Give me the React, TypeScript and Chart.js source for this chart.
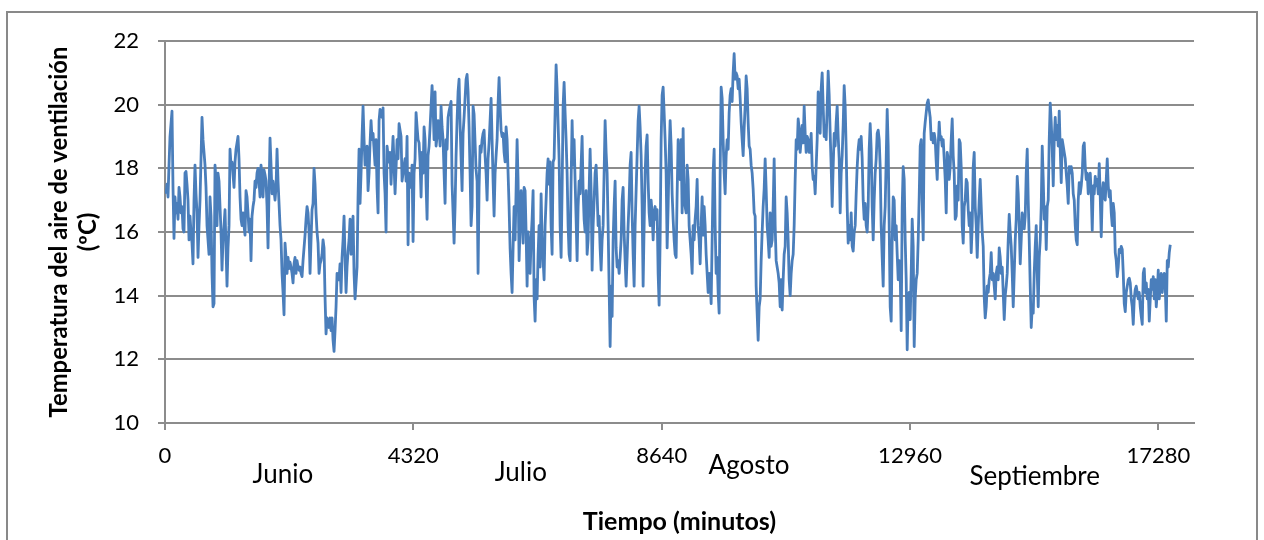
import React, { useEffect, useRef } from 'react';
import { Chart, registerables } from 'chart.js';

Chart.register(...registerables);

// Ventilation air temperature, one value every 17.4 minutes
const SAMPLE_START_MIN = 17.4;
const SAMPLE_STEP_MIN = 17.4;

const TEMPS_JUNIO_A = [
  17.2, 17.5, 17.1, 18.1, 19.0, 19.4, 19.8, 17.4, 15.8, 17.1,
  16.6, 16.9, 16.4, 17.4, 17.1, 16.6, 16.8, 16.1, 16.0, 17.85,
  17.9, 17.5, 17.0, 15.75, 16.5, 16.0, 15.65, 15.0, 17.0, 18.1,
  17.2, 16.6, 15.2, 16.2, 17.0, 18.3, 19.6, 18.9, 18.5, 18.1,
  17.4, 16.2, 15.75, 15.3, 17.1, 16.5, 14.7, 13.65, 13.75, 18.1,
  17.6, 16.2, 17.85, 17.6, 16.8, 16.0, 14.8, 15.75, 16.2, 16.7,
  15.5, 14.3, 15.5, 16.2, 18.6, 18.1, 18.2, 17.8, 17.4, 18.2,
  18.6, 18.8, 19.0, 18.3, 17.1, 16.4, 16.2, 16.6, 16.2, 15.9,
  17.3, 17.1, 16.6, 16.0, 16.4, 15.1, 16.5, 16.8, 17.0, 17.6,
  17.4, 17.85, 18.0, 17.6, 17.1, 18.1, 17.75, 17.1, 17.95, 17.8,
  17.6, 16.8, 15.5, 17.3, 18.95, 18.1, 17.2, 17.6, 17.3, 17.0,
  17.4, 18.6, 17.6, 16.9, 16.2, 15.75, 14.7, 14.1, 13.4, 15.65,
  15.2, 14.7, 15.2, 14.85,
];

const TEMPS_JUNIO_B = [
  15.05, 14.9, 14.7, 14.4, 15.0, 15.2, 14.7, 15.1, 14.9, 14.8,
  14.9, 14.7, 14.6, 15.1, 15.5, 15.9, 16.4, 16.8, 16.6, 16.0,
  14.7, 15.75, 16.7, 16.9, 18.0, 17.5, 16.6, 16.0, 15.65, 14.7,
  15.0, 15.1, 15.3, 15.75, 15.5, 13.95, 12.8, 13.3, 13.1, 13.0,
  13.3, 12.9, 13.3, 12.6, 12.25, 12.9, 13.65, 14.7, 14.6, 14.5,
  15.0, 14.1, 15.2, 15.75, 16.5, 15.2, 14.1, 14.9, 15.4, 15.75,
  16.4, 15.3, 16.0, 16.5, 14.7, 13.9, 14.4, 14.9, 17.1, 18.6,
  16.9, 17.85, 19.0, 19.95, 18.9, 18.1, 18.4, 18.7, 17.3, 17.85,
  18.8, 19.5, 18.9, 19.1, 18.6, 18.1, 18.9, 17.4, 16.6, 19.5,
  19.85, 19.7, 19.6, 19.9, 17.85, 17.2, 16.0, 18.7, 18.4, 18.2,
  18.5, 17.5, 18.3, 19.0, 18.1, 17.2, 18.0, 18.9, 18.3, 19.4,
  19.2, 19.0, 17.6, 17.85, 18.1, 18.3, 17.6, 19.0, 15.6, 17.85,
  17.6, 17.4, 18.1, 15.7, 17.85, 18.3, 19.75, 19.3, 18.9, 18.8,
];

const TEMPS_JULIO_A = [
  18.2, 17.1, 18.5, 17.85, 19.3, 18.9, 17.5, 16.4, 18.4, 18.7,
  19.3, 19.95, 20.6, 19.95, 18.9, 20.4, 18.7, 19.0, 19.5, 19.3,
  18.7, 19.95, 19.3, 18.9, 17.85, 16.9, 18.9, 18.6, 19.6, 19.8,
  19.95, 20.1, 17.5, 16.6, 15.65, 16.8, 18.4, 19.5, 20.4, 20.8,
  19.4, 18.3, 17.3, 19.1, 19.6, 20.2, 20.8, 20.95, 20.4, 19.3,
  17.85, 16.2, 16.8, 19.95, 19.7, 18.8, 17.95, 17.6, 14.7, 17.4,
  18.7, 18.5, 18.9, 19.1, 19.2, 18.4, 17.85, 17.0, 18.3, 18.8,
  19.5, 20.2, 18.9, 17.6, 16.5, 17.85, 18.4, 18.9, 20.05, 20.85,
  19.95, 19.2, 19.0, 19.1, 18.5, 18.2, 19.3, 18.9, 17.85, 16.8,
  15.5, 14.7, 14.1, 15.5, 16.8, 15.75, 17.3, 18.9, 17.6, 15.1,
  16.2, 17.3, 16.6, 15.65, 17.4, 17.3, 16.0, 14.3, 16.0, 15.5,
  14.7, 15.75, 16.4, 17.3, 13.95, 13.2, 14.5, 13.9, 15.3, 16.2,
  14.9, 17.2, 15.75, 15.1, 14.5, 16.2, 17.0, 17.85, 18.3, 17.5,
  18.2, 16.2, 15.3, 18.2, 18.3, 19.75, 21.25, 20.5, 19.4, 18.3,
];

const TEMPS_JULIO_B = [
  16.2, 15.2, 17.3, 19.95, 20.7, 19.75, 18.9, 17.85, 16.2, 15.3,
  15.1, 17.6, 19.5, 18.1, 18.9, 17.6, 16.4, 15.1, 16.8, 17.6,
  17.2, 18.1, 19.0, 17.3, 16.4, 16.0, 17.3, 15.3, 15.75, 17.3,
  18.6, 17.3, 14.8, 16.2, 17.0, 17.85, 18.1, 17.2, 16.2, 16.5,
  15.5, 14.8, 15.75, 16.2, 17.85, 19.5, 18.5, 17.85, 16.2, 14.3,
  12.4, 14.3, 13.35, 15.75, 16.8, 17.6, 15.5, 14.9, 15.1, 14.7,
  15.2, 15.75, 17.0, 17.4, 16.0, 15.1, 14.3, 15.2, 16.2, 17.0,
  18.1, 18.5, 16.6, 15.3, 14.3, 16.2, 17.3, 18.4, 19.5, 19.95,
  19.3, 18.4, 16.8, 14.3, 16.2, 17.85, 18.7, 19.05, 17.6, 16.6,
  16.2, 17.0, 16.6, 15.75, 16.6, 16.8, 16.4, 16.7, 14.7, 13.7,
  15.75, 18.9, 20.3, 20.55, 19.75, 18.9, 17.85, 15.5, 16.8, 18.4,
  19.5, 18.7, 17.2, 16.4, 15.75, 15.3, 15.2, 17.2, 18.9, 17.85,
];

const TEMPS_AGOSTO_A = [
  17.65, 18.9, 16.6, 19.25, 17.0, 16.8, 16.6, 18.1, 17.65, 16.2,
  15.75, 15.3, 14.7, 16.2, 15.75, 16.4, 16.8, 17.65, 16.2, 15.75,
  15.0, 16.2, 17.1, 15.9, 16.8, 16.2, 15.3, 14.7, 14.1, 14.7,
  14.5, 13.75, 15.75, 17.85, 18.6, 16.2, 14.7, 15.2, 14.1, 13.45,
  17.85, 20.55, 20.2, 18.9, 17.85, 17.2, 18.4, 18.9, 18.6, 19.75,
  20.3, 20.5, 20.1, 21.0, 21.6, 20.8, 21.0, 20.9, 20.5, 20.8,
  20.2, 19.45, 18.9, 18.4, 19.25, 19.95, 20.9, 20.5, 19.45, 18.7,
  18.6, 18.1, 17.85, 17.35, 16.6, 16.5, 14.3, 13.45, 12.6, 13.65,
  13.9, 15.1, 16.0, 16.8, 17.35, 18.3, 17.35, 16.2, 15.75, 15.2,
  16.6, 15.55, 15.75, 16.8, 18.3, 16.2, 15.1, 14.9, 14.7, 14.4,
  13.65, 14.5, 13.55, 14.5, 15.3, 15.55, 17.1, 16.6, 15.75, 14.5,
  14.0, 14.7, 15.1, 15.3, 16.2, 17.65, 18.9, 18.6, 19.55, 19.25,
  18.5, 18.9, 19.35, 18.8, 19.95, 19.1, 18.5, 19.0, 18.9, 18.5,
];

const TEMPS_AGOSTO_B = [
  18.5, 19.1, 18.05, 17.65, 17.75, 17.2, 18.05, 18.9, 20.4, 19.95,
  19.1, 20.5, 21.0, 19.95, 19.0, 19.35, 18.9, 19.95, 21.05, 20.3,
  19.1, 18.05, 16.8, 18.05, 19.1, 18.7, 19.45, 19.95, 19.0, 18.3,
  16.6, 17.85, 18.4, 19.35, 20.6, 19.95, 18.6, 16.8, 15.65, 16.2,
  15.75, 16.6, 15.55, 15.4, 16.0, 16.2, 17.2, 18.05, 18.6, 18.9,
  18.6, 19.0, 18.3, 17.0, 16.4, 16.9, 16.2, 16.0, 16.8, 18.6,
  19.4, 18.6, 16.8, 15.75, 17.0, 17.85, 18.3, 19.1, 19.2, 18.9,
  18.05, 16.2, 15.2, 14.3, 16.2, 16.8, 18.3, 19.85, 18.7, 16.2,
  13.65, 13.2, 15.75, 17.1, 17.0, 15.75, 16.2, 15.3, 14.5, 15.1,
  14.7, 12.9, 16.8, 18.05, 17.65, 15.75, 14.5, 12.3, 13.9, 14.1,
  13.25, 14.7, 16.4, 15.55, 12.4, 13.9, 14.5, 14.7, 15.75, 17.1,
  18.7, 18.9, 17.0, 15.75, 19.1, 19.45, 19.75, 20.05, 20.15, 19.85,
  19.6, 18.9, 19.1, 18.8, 19.1, 18.9, 18.2, 17.65, 18.7, 19.45,
  18.9,
];

const TEMPS_SEPTIEMBRE_A = [
  19.0, 18.7, 18.9, 18.3, 17.65, 16.6, 18.5, 18.3, 17.65, 18.05,
  18.9, 19.55, 18.4, 17.85, 16.4, 16.5, 17.45, 17.0, 18.9, 18.8,
  18.05, 16.2, 15.65, 16.8, 17.0, 17.65, 17.55, 16.7, 16.2, 16.6,
  15.35, 16.2, 18.05, 18.5, 16.8, 16.2, 15.2, 16.2, 17.0, 17.65,
  16.8, 16.0, 15.55, 13.95, 13.3, 13.65, 14.3, 14.1, 14.5, 14.7,
  15.35, 14.5, 14.7, 14.3, 13.9, 14.7, 14.9, 14.5, 15.5, 15.2,
  14.7, 14.9, 14.1, 13.25, 14.0, 14.3, 14.7, 15.75, 16.55, 16.0,
  15.55, 14.7, 13.65, 14.7, 15.75, 16.4, 17.75, 17.2, 16.2, 15.0,
  15.75, 16.6, 16.4, 16.1, 16.5, 17.85, 18.6, 17.0, 15.75, 14.3,
  13.0, 13.65, 13.45, 14.7, 15.55, 16.2, 14.7, 13.65, 15.2, 15.75,
  16.8, 18.7, 17.65, 16.4, 16.8, 15.45, 16.8, 17.0, 18.9, 20.05,
  19.45, 18.6, 17.45, 18.9, 19.6, 18.9, 19.35, 18.7, 19.8, 18.6,
  17.55, 18.9, 18.7, 18.5, 18.3, 17.85, 17.45, 16.9, 18.05, 17.85,
];

const TEMPS_SEPTIEMBRE_B = [
  18.05, 17.85, 17.2, 17.0, 16.2, 15.75, 15.6, 17.0, 17.55, 17.2,
  17.45, 17.85, 18.7, 18.8, 18.05, 17.65, 17.85, 17.2, 17.65, 17.85,
  17.2, 16.05, 17.45, 17.2, 17.75, 17.45, 17.65, 17.2, 18.15, 17.1,
  15.85, 17.2, 17.55, 17.1, 17.0, 17.65, 18.3, 17.45, 17.1, 17.3,
  16.6, 16.2, 16.9, 16.6, 15.35, 15.1, 14.6, 14.9, 15.45, 15.35,
  15.55, 15.45, 14.7, 13.75, 13.5, 14.1, 14.3, 14.5, 14.55, 14.4,
  13.9, 13.65, 13.1, 13.9, 14.2, 14.3, 14.1, 13.9, 14.1, 13.65,
  13.35, 13.1, 14.7, 14.85, 14.1, 14.4, 13.9, 14.2, 13.2, 13.9,
  14.5, 14.2, 14.6, 13.9, 14.5, 13.65, 14.1, 14.8, 13.9, 14.3,
  14.7, 14.1, 14.5, 14.7, 14.3, 13.2, 15.1, 14.9, 15.35, 15.6,
];

const X_TICKS = [0, 4320, 8640, 12960, 17280];
const X_MIN = 0;
const X_MAX = 17900;
const Y_MIN = 10;
const Y_MAX = 22;
const Y_STEP = 2;

const MONTHS = ['Junio', 'Julio', 'Agosto', 'Septiembre'];
const MONTH_CENTERS_MIN = [2050, 6190, 10160, 15130];

const Y_TITLE = ['Temperatura del aire de ventilación', '(ºC)'];
const X_TITLE = 'Tiempo (minutos)';

// styles
const FONT = 'Lato, "Open Sans", sans-serif';
const GRID = '#8c8c8c';
const LINE = '#4a7ebb';
const MONTH_BASELINES = [483, 481, 474, 485];

const frameAndMonths = {
  id: 'frameAndMonths',
  beforeDraw(chart: any) {
    const { ctx, width, height } = chart;
    ctx.save();
    ctx.fillStyle = '#ffffff';
    ctx.fillRect(0, 0, width, height);
    ctx.strokeStyle = '#898989';
    ctx.lineWidth = 2;
    ctx.strokeRect(7, 12, 1250, 600);
    ctx.restore();
  },
  afterDraw(chart: any) {
    const { ctx } = chart;
    const x = chart.scales.x;
    ctx.save();
    ctx.font = `26px ${FONT}`;
    ctx.fillStyle = '#000';
    ctx.textAlign = 'center';
    ctx.textBaseline = 'alphabetic';
    MONTHS.forEach((m, i) => {
      ctx.fillText(m, x.getPixelForValue(MONTH_CENTERS_MIN[i]), MONTH_BASELINES[i]);
    });
    ctx.restore();
  },
};

export default function App() {
  const canvasRef = useRef<HTMLCanvasElement | null>(null);

  useEffect(() => {
    if (!canvasRef.current) return;
    const temps = [
      ...TEMPS_JUNIO_A, ...TEMPS_JUNIO_B, ...TEMPS_JULIO_A, ...TEMPS_JULIO_B,
      ...TEMPS_AGOSTO_A, ...TEMPS_AGOSTO_B, ...TEMPS_SEPTIEMBRE_A, ...TEMPS_SEPTIEMBRE_B,
    ];
    const points = temps.map((t, i) => ({ x: SAMPLE_START_MIN + i * SAMPLE_STEP_MIN, y: t }));

    const chart = new Chart(canvasRef.current, {
      type: 'line',
      data: {
        datasets: [
          {
            data: points,
            borderColor: LINE,
            borderWidth: 2.8,
            pointRadius: 0,
            tension: 0,
            fill: false,
            borderJoinStyle: 'round',
          },
        ],
      },
      plugins: [frameAndMonths],
      options: {
        responsive: false,
        animation: false,
        layout: { padding: { top: 41, right: 70, bottom: 0, left: 0 } },
        plugins: {
          legend: { display: false },
          tooltip: { enabled: false },
        },
        scales: {
          x: {
            type: 'linear',
            min: X_MIN,
            max: X_MAX,
            afterBuildTicks: (s: any) => {
              s.ticks = X_TICKS.map((v) => ({ value: v }));
            },
            afterFit: (s: any) => {
              s.height = 117;
            },
            grid: { drawOnChartArea: false, drawTicks: true, tickLength: 7, color: GRID, lineWidth: 2 },
            border: { display: true, color: GRID, width: 2 },
            ticks: {
              callback: (v: any) => String(v),
              font: { family: FONT, size: 22 },
              color: '#000',
              padding: 13,
              maxRotation: 0,
              autoSkip: false,
            },
            title: {
              display: true,
              text: X_TITLE,
              font: { family: FONT, size: 25, weight: 'bold' },
              color: '#000',
              padding: { top: 0, bottom: 3 },
            },
          },
          y: {
            min: Y_MIN,
            max: Y_MAX,
            afterFit: (s: any) => {
              s.width = 165;
            },
            ticks: { stepSize: Y_STEP, font: { family: FONT, size: 22 }, color: '#000', padding: 19 },
            grid: { color: GRID, lineWidth: 2, tickLength: 7, drawTicks: true },
            border: { display: true, color: GRID, width: 2 },
            title: {
              display: true,
              text: Y_TITLE,
              font: { family: FONT, size: 23.8, weight: 'bold', lineHeight: 1.2 },
              color: '#000',
              padding: { top: 45, bottom: 0 },
            },
          },
        },
      },
    } as any);

    return () => chart.destroy();
  }, []);

  return (
    <div style={{ position: 'absolute', left: 0, top: 0, width: 1264, height: 540 }}>
      <canvas ref={canvasRef} width={1264} height={540} style={{ display: 'block' }} />
    </div>
  );
}
